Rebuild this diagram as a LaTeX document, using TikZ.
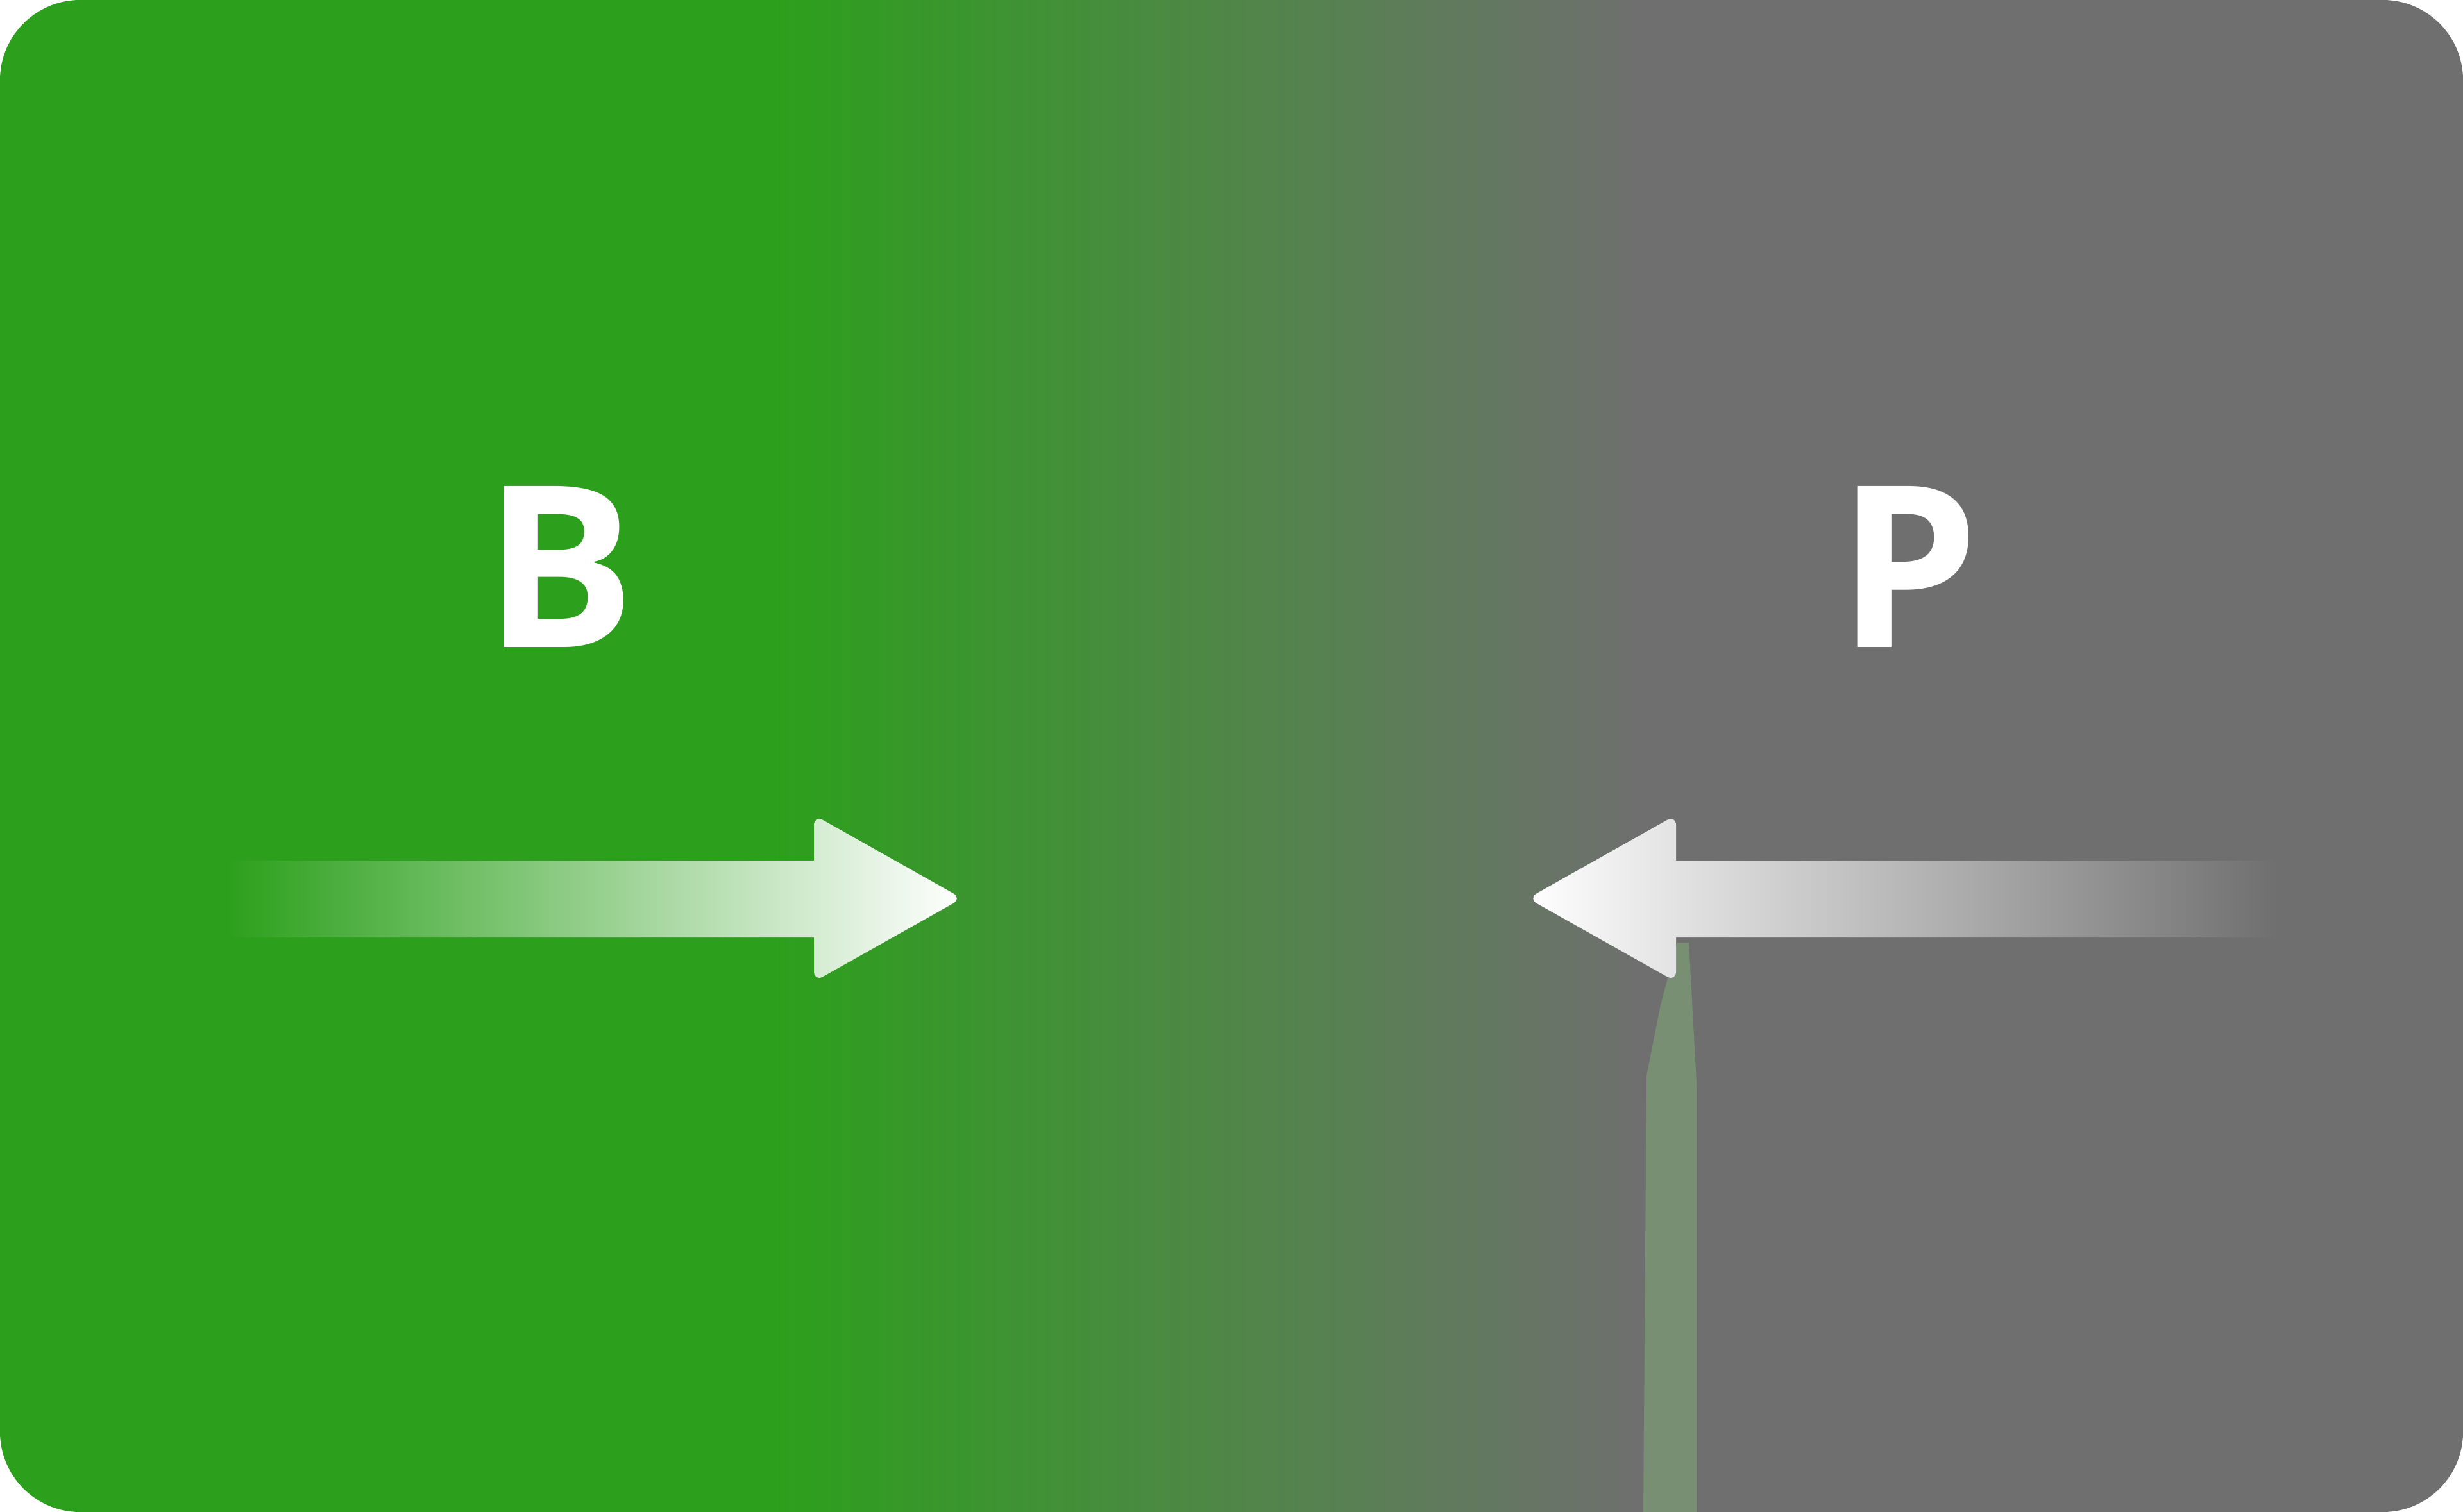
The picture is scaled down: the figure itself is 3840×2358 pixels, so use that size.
\documentclass[tikz,border=0pt]{standalone}
\usepackage{fontspec}
\usepackage{tikz}
\usetikzlibrary{positioning}
\newfontfamily\letterfont{Open Sans}

\definecolor{bggreen}{HTML}{2CA01C}
\definecolor{bggray}{HTML}{6F6F6F}
\definecolor{streakgreen}{HTML}{7A9574}

\begin{document}
\begin{tikzpicture}[x=0.01cm,y=-0.01cm,
every node/.style={inner sep=0pt,outer sep=0pt},
letter/.style={text=white,font=\letterfont\bfseries\fontsize{100pt}{100pt}\selectfont},
bgbox/.style={rounded corners=1.25cm},
inarrow/.style={rounded corners=0.16cm}]
\useasboundingbox (0,0) rectangle (3840,2358);
\begin{scope}
  \clip[bgbox] (0,0) rectangle (3840,2358);
  \fill[bggreen] (0,0) rectangle (1200,2358);
  \shade[left color=bggreen,right color=bggray] (1199,0) rectangle (2561,2358);
  \fill[bggray] (2560,0) rectangle (3840,2358);
  % green trace under the right arrow
  \fill[streakgreen,opacity=0.85] (2615,1470) -- (2589,1567) -- (2567,1678) -- (2562,2358)
       -- (2645,2358) -- (2645,1690) -- (2633,1470) -- cycle;
\end{scope}

\node[letter] (buyer) at (873,884) {B};
\node[letter] (provider) at (2975,884) {P};

% arrow from the left
\shade[left color=bggreen,right color=white]
  (1269,1462) -- (355,1462) -- (355,1342) -- (1269,1342)
  {[inarrow] -- (1269,1271) -- (1500,1401) -- (1269,1531)} -- cycle;
% arrow from the right
\shade[left color=white,right color=bggray]
  (2613,1342) -- (3551,1342) -- (3551,1462) -- (2613,1462)
  {[inarrow] -- (2613,1531) -- (2382,1401) -- (2613,1271)} -- cycle;
\end{tikzpicture}
\end{document}
